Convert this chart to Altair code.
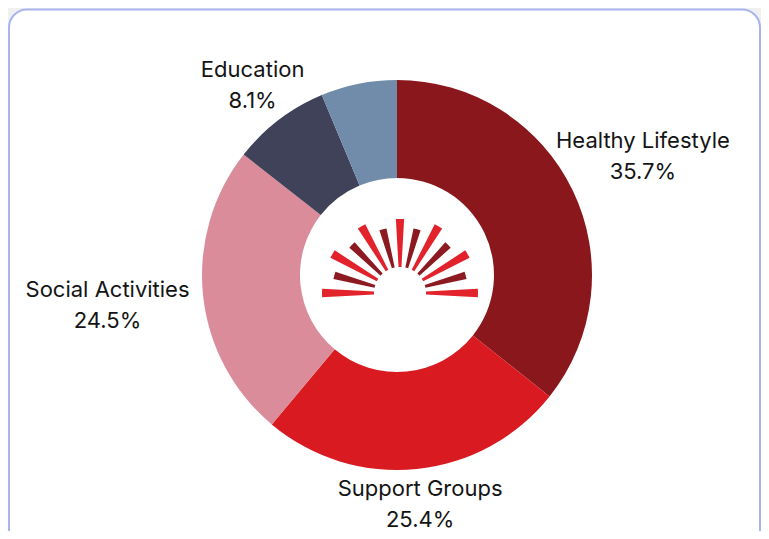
import math
import altair as alt
import pandas as pd

# ---- data ----
categories = ["Healthy Lifestyle", "Support Groups", "Social Activities", "Education", "Other"]
shares = [35.7, 25.4, 24.5, 8.1, 6.3]
slice_colors = ["#8A171C", "#D91A21", "#DB8C9A", "#3F4258", "#718CAB"]
show_label = [True, True, True, True, False]

# centre logo (sun rays)
ray_angles = [-90, -75, -60, -45, -30, -15, 0, 15, 30, 45, 60, 75, 90]
ray_lengths = [78, 68, 78, 68, 77, 66, 74, 66, 77, 68, 78, 68, 78]
ray_tones = ["bright", "dark"] * 6 + ["bright"]

# ---- layout / style ----
W, H = 753, 523
CX, CY = 389, 267
R_OUT, R_IN = 195, 97
LOGO_CX, LOGO_CY = 392, 285
RAY_INNER, RAY_HALF = 26, 3.2
FONT = "Inter"
FS = 22
LINE_H = 31
HALF_H = 33
PAD = 2

total = sum(shares)
rows = []
cum = 0.0
for i, (c, s, show) in enumerate(zip(categories, shares, show_label)):
    mid = (cum + s / 2) / total * 2 * math.pi
    cum += s
    hw = len(c) * 0.5 * FS / 2
    sa, ca = abs(math.sin(mid)), abs(math.cos(mid))
    d = min(hw / sa if sa > 1e-6 else 1e9, HALF_H / ca if ca > 1e-6 else 1e9)
    rows.append({
        "category": c,
        "share": s,
        "order": i,
        "label": f"{c}\n{s:.1f}%" if show else "",
        "mid": math.degrees(mid),
        "lr": R_OUT + PAD + d,
    })
df = pd.DataFrame(rows)

rays = pd.DataFrame({
    "a0": [a - RAY_HALF for a in ray_angles],
    "a1": [a + RAY_HALF for a in ray_angles],
    "r0": [RAY_INNER] * len(ray_angles),
    "r1": ray_lengths,
    "tone": ray_tones,
})

deg_scale = alt.Scale(domain=[0, 360], range=[0, 2 * math.pi])
px_scale = alt.Scale(type="linear", domain=[0, 1000], range=[0, 1000])

frame = alt.Chart(pd.DataFrame({"k": [0]})).mark_rect(
    fill="white", stroke="#A9B4EE", strokeWidth=2, cornerRadius=18
).encode(
    x=alt.value(1), x2=alt.value(W - 1), y=alt.value(1.5), y2=alt.value(H + 40)
)

donut = alt.Chart(df).mark_arc(innerRadius=R_IN, outerRadius=R_OUT, strokeWidth=0).encode(
    theta=alt.Theta("share:Q", stack=True),
    order=alt.Order("order:Q"),
    color=alt.Color("category:N", scale=alt.Scale(domain=categories, range=slice_colors), legend=None),
    x=alt.value(CX),
    y=alt.value(CY),
)

labels = alt.Chart(df).transform_filter("datum.label != ''").mark_text(
    font=FONT, fontSize=FS, lineBreak="\n", lineHeight=LINE_H,
    align="center", baseline="middle", color="#141414", dy=-LINE_H / 2,
).encode(
    theta=alt.Theta("mid:Q", stack=None, scale=deg_scale),
    radius=alt.Radius("lr:Q", scale=px_scale),
    text="label:N",
    x=alt.value(CX),
    y=alt.value(CY),
)

logo = alt.Chart(rays).mark_arc(strokeWidth=0).encode(
    theta=alt.Theta("a0:Q", stack=None, scale=deg_scale),
    theta2="a1:Q",
    radius=alt.Radius("r1:Q", scale=px_scale),
    radius2="r0:Q",
    color=alt.Color("tone:N", scale=alt.Scale(domain=["bright", "dark"], range=["#E2232C", "#8C1B21"]), legend=None),
    x=alt.value(LOGO_CX),
    y=alt.value(LOGO_CY),
)

chart = alt.layer(frame, donut, labels, logo).resolve_scale(
    theta="independent", radius="independent", color="independent"
).properties(
    width=W, height=H, padding=0,
    autosize=alt.AutoSizeParams(type="fit", contains="padding"),
    background="#F0F0F0",
).configure_view(stroke=None)

chart.save("out.html", embed_options={"renderer": "svg", "actions": False})
